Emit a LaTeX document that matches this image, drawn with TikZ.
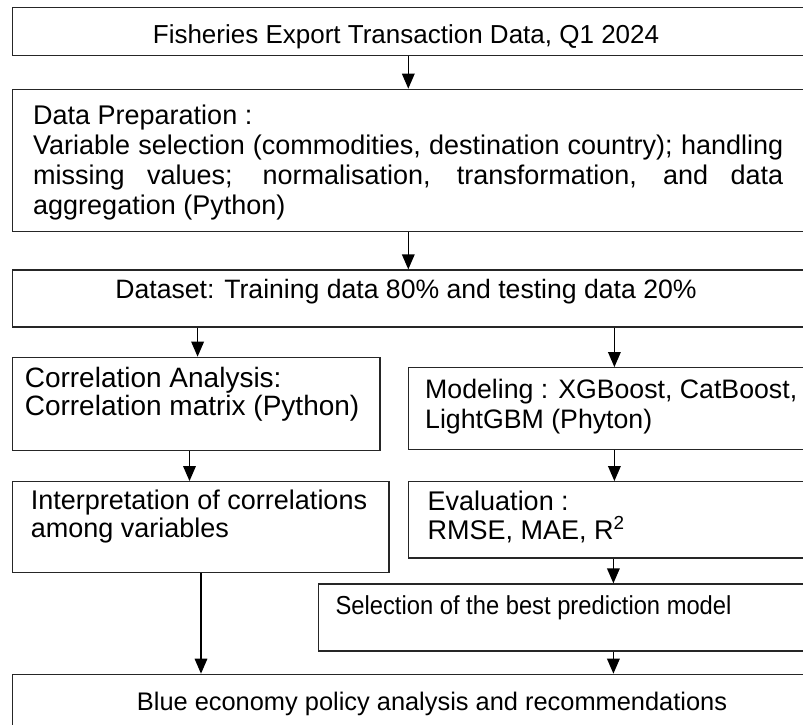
\documentclass[tikz,border=0pt]{standalone}
\usepackage{fontspec}
\setmainfont{Liberation Sans}
\usetikzlibrary{fit,arrows.meta}

\begin{document}
\begin{tikzpicture}[
    x=1pt, y=-1pt,
    box/.style={draw=black!85, line width=1.2pt, inner sep=0pt},
    fs/.style={font=\fontsize{#1}{30pt}\selectfont},
    txt/.style={fs=27pt, inner sep=0pt, anchor=base west},
    ctxt/.style={fs=27pt, inner sep=0pt, anchor=base},
    arr/.style={draw=black, line width=1.6pt, -{Triangle[length=15pt,width=12.5pt]}}
  ]
  \useasboundingbox (0,0) rectangle (803,724);
  \clip (0,0) rectangle (803,724);

  % boxes
  \node[box, fit={(12.7,7.3) (806,55.7)}]    (src)   {};
  \node[box, fit={(12.7,89.3) (806,231.7)}]  (prep)  {};
  \node[box, fit={(12.7,270) (806,327)}]     (split) {};
  \node[box, fit={(12.3,357.3) (380,450.7)}] (corr)  {};
  \node[box, fit={(408.5,367.7) (806,449.3)}](model) {};
  \node[box, fit={(12.3,481.7) (389,572.7)}] (interp){};
  \node[box, fit={(408.5,481.7) (806,558)}]  (eval)  {};
  \node[box, fit={(318.5,584) (806,651)}]    (best)  {};
  \node[box, fit={(12.3,674.3) (806,730)}]   (policy){};

  % texts
  \node[ctxt, fs=26pt] (tsrc) at (406,43) {Fisheries Export Transaction Data, Q1 2024};

  \node[txt] (tprep1) at (33,124) {Data Preparation :};
  \node[txt] (tprep2) at (33,154) {\makebox[750pt][s]{Variable selection (commodities, destination country); handling}};
  \node[txt] (tprep3) at (33,184) {\makebox[750pt][s]{missing values; normalisation, transformation, and data}};
  \node[txt] (tprep4) at (33,214) {aggregation (Python)};

  \node[ctxt, fs=26.6pt] (tsplit) at (406,298) {Dataset: Training data 80\% and testing data 20\%};

  \node[txt, fs=28pt] (tcorr1) at (24.6,387) {Correlation Analysis:};
  \node[txt, fs=28pt] (tcorr2) at (24.6,415) {Correlation matrix (Python)};

  \node[txt, fs=26.7pt] (tmodel1) at (425,398) {Modeling : XGBoost, CatBoost,};
  \node[txt, fs=26.7pt] (tmodel2) at (425,428) {LightGBM (Phyton)};

  \node[txt] (tint1) at (30.7,509.5) {Interpretation of correlations};
  \node[txt] (tint2) at (30.7,537.5) {among variables};

  \node[txt] (teval1) at (427.5,510) {Evaluation :};
  \node[txt] (teval2) at (427.5,539) {RMSE, MAE, R\textsuperscript{2}};

  \node[txt, fs=26pt] (tbest) at (335.4,614) {\scalebox{0.913}[1]{Selection of the best prediction model}};

  \node[ctxt, fs=25.4pt] (tpolicy) at (432,710) {Blue economy policy analysis and recommendations};

  % arrow columns
  \coordinate (xmid) at (408.3,0);
  \coordinate (xl1)  at (197.6,0);
  \coordinate (xr1)  at (614.4,0);
  \coordinate (xl2)  at (189.5,0);
  \coordinate (xr2)  at (613.4,0);
  \coordinate (xl3)  at (201,0);

  % connectors
  \draw[arr] (src.south -| xmid)   -- (prep.north -| xmid);
  \draw[arr] (prep.south -| xmid)  -- (split.north -| xmid);
  \draw[arr] (split.south -| xl1)  -- (corr.north -| xl1);
  \draw[arr] (split.south -| xr1)  -- (model.north -| xr1);
  \draw[arr] (corr.south -| xl2)   -- (interp.north -| xl2);
  \draw[arr] (model.south -| xr1)  -- (eval.north -| xr1);
  \draw[arr] (eval.south -| xr2)   -- (best.north -| xr2);
  \draw[arr] (interp.south -| xl3) -- (policy.north -| xl3);
  \draw[arr] (best.south -| xr2)   -- (policy.north -| xr2);
\end{tikzpicture}
\end{document}
